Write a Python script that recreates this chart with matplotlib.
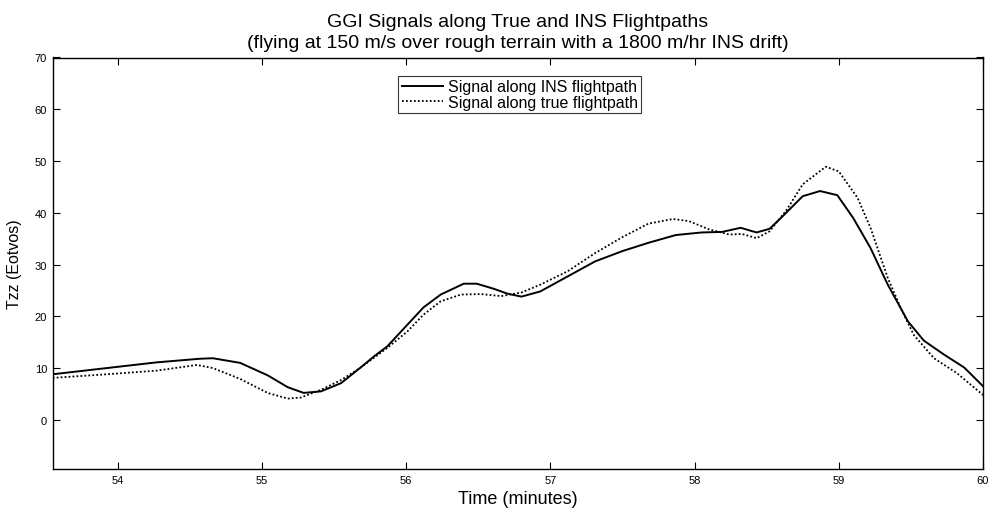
import matplotlib
matplotlib.use("Agg")
import matplotlib.pyplot as plt

plt.rcParams['font.family'] = ['Liberation Sans', 'DejaVu Sans']

# Signal along INS flightpath (solid)
ins_t = [53.55, 53.925, 54.27, 54.57, 54.66, 54.85, 55.04, 55.18, 55.29, 55.41,
         55.55, 55.68, 55.78, 55.87, 56.01, 56.12, 56.24, 56.40, 56.49, 56.61,
         56.70, 56.80, 56.93, 57.12, 57.31, 57.50, 57.68, 57.87, 58.05, 58.19,
         58.32, 58.43, 58.52, 58.61, 58.75, 58.87, 58.99, 59.10, 59.22, 59.34,
         59.48, 59.59, 59.73, 59.87, 60.0]
ins_v = [8.8, 10.0, 11.1, 11.8, 11.9, 11.0, 8.6, 6.3, 5.2, 5.5,
         7.1, 10.0, 12.3, 14.2, 18.4, 21.7, 24.2, 26.3, 26.3, 25.3,
         24.4, 23.8, 24.8, 27.7, 30.6, 32.6, 34.2, 35.7, 36.2, 36.3,
         37.1, 36.2, 36.9, 39.3, 43.2, 44.2, 43.4, 39.0, 33.2, 26.1,
         19.0, 15.3, 12.6, 10.1, 6.5]

# Signal along true flightpath (dotted)
true_t = [53.55, 53.925, 54.27, 54.55, 54.66, 54.85, 55.04, 55.18, 55.27, 55.41,
          55.55, 55.68, 55.87, 56.01, 56.12, 56.24, 56.38, 56.52, 56.66, 56.80,
          56.93, 57.12, 57.31, 57.50, 57.68, 57.85, 57.96, 58.10, 58.24, 58.33,
          58.43, 58.52, 58.64, 58.75, 58.91, 59.00, 59.13, 59.22, 59.34, 59.43,
          59.52, 59.66, 59.82, 60.0]
true_v = [8.1, 8.8, 9.5, 10.6, 10.0, 7.9, 5.2, 4.1, 4.3, 5.8,
          7.7, 10.0, 13.9, 17.1, 20.3, 22.9, 24.2, 24.3, 23.9, 24.6,
          26.1, 28.7, 32.2, 35.3, 37.9, 38.8, 38.4, 36.8, 35.8, 35.9,
          35.1, 36.4, 40.6, 45.5, 48.9, 48.0, 42.9, 37.1, 27.4, 21.6,
          16.4, 11.9, 9.0, 4.8]

x_ticks = [54, 55, 56, 57, 58, 59, 60]
y_ticks = [0, 10, 20, 30, 40, 50, 60, 70]

fig = plt.figure(figsize=(9.89, 5.10), dpi=100)
ax = fig.add_axes([52.7/989, 1-470/510, (983-52.7)/989, (470-58.5)/510])

ax.plot(ins_t, ins_v, color='black', linewidth=1.4, linestyle='-',
        label='Signal along INS flightpath')
ax.plot(true_t, true_v, color='black', linewidth=1.3, linestyle=(0, (1, 1.2)),
        label='Signal along true flightpath')

ax.set_xlim(53.55, 60)
ax.set_ylim(-9.5, 70)
ax.set_xticks(x_ticks)
ax.set_yticks(y_ticks)
ax.tick_params(direction='in', top=True, right=True, labelsize=8, length=5,
               width=0.8, pad=4)
for s in ax.spines.values():
    s.set_linewidth(1.0)

ax.set_xlabel('Time (minutes)', fontsize=13, labelpad=4)
ax.set_ylabel('Tzz (Eotvos)', fontsize=11.5, labelpad=9)
ax.set_title('GGI Signals along True and INS Flightpaths\n'
             '(flying at 150 m/s over rough terrain with a 1800 m/hr INS drift)',
             fontsize=14, pad=7.5, linespacing=1.3)

leg = ax.legend(loc='upper center', bbox_to_anchor=(0.502, 0.955), fontsize=11.5,
                frameon=True, fancybox=False, edgecolor='black',
                handlelength=2.6, handletextpad=0.3, borderpad=0.2,
                labelspacing=0.05, borderaxespad=0)
leg.get_frame().set_linewidth(0.8)

fig.savefig('out.png', dpi=100)
